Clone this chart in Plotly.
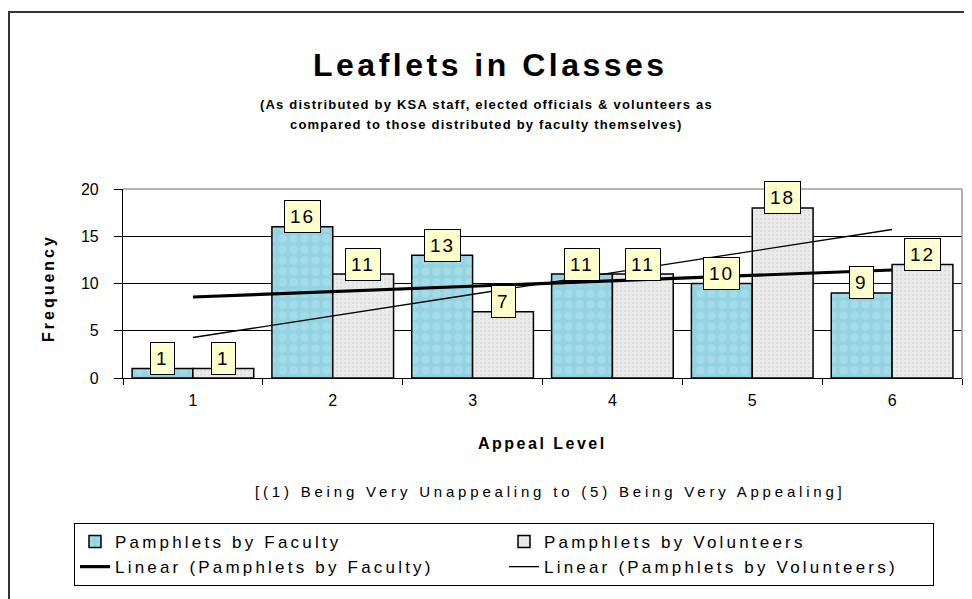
import numpy as np
import plotly.graph_objects as go

# ---------------- data ----------------
categories = ["1", "2", "3", "4", "5", "6"]
faculty = [1, 16, 13, 11, 10, 9]
volunteers = [1, 11, 7, 11, 18, 12]
y_ticks = [0, 5, 10, 15, 20]

series_names = ["Pamphlets by Faculty", "Pamphlets by Volunteers"]
trend_names = ["Linear (Pamphlets by Faculty)", "Linear (Pamphlets by Volunteers)"]

title_text = "Leaflets in Classes"
subtitle_lines = [
    "(As distributed by KSA staff, elected officials & volunteers as",
    "compared to those distributed by faculty themselves)",
]
x_title = "Appeal Level"
x_note = "[(1) Being Very Unappealing to (5) Being Very Appealing]"
y_title = "Frequency"

# ---------------- layout helpers ----------------
W, H = 972, 599
OFF = 8  # page body margin in the browser
ML, MR, MT, MB = 115, 18, 181, 229
PW, PH = W - ML - MR, H - MT - MB
FONT = "Liberation Sans, Arial, sans-serif"
BARGAP = 0.13


def px_x(x):
    return (x - OFF - ML) / PW


def px_y(y):
    return (MT + PH - (y - OFF)) / PH


def spaced(text, sp):
    return '<span style="letter-spacing:%spx">%s</span>' % (sp, text)


idx = np.arange(len(categories))
fit_f = np.polyval(np.polyfit(idx + 1, faculty, 1), idx + 1)
fit_v = np.polyval(np.polyfit(idx + 1, volunteers, 1), idx + 1)

fig = go.Figure()
fig.add_trace(go.Bar(
    x=categories, y=faculty, name=spaced(series_names[0], 3.2),
    marker=dict(color="#9ED8E6", line=dict(color="black", width=1.5),
                pattern=dict(shape=".", fgcolor="#B4E3EE", bgcolor="#93D3E2",
                             size=11, solidity=0.45)),
))
fig.add_trace(go.Bar(
    x=categories, y=volunteers, name=spaced(series_names[1], 3.2),
    marker=dict(color="#E6E6E6", line=dict(color="black", width=1.5),
                pattern=dict(shape=".", fgcolor="#CFCFCF", bgcolor="#EBEBEB",
                             size=4, solidity=0.25)),
))
fig.add_trace(go.Scatter(
    x=categories, y=fit_f, mode="lines", name=spaced(trend_names[0], 3.2),
    line=dict(color="black", width=3.2),
))
fig.add_trace(go.Scatter(
    x=categories, y=fit_v, mode="lines", name=spaced(trend_names[1], 3.2),
    line=dict(color="black", width=1.3),
))

annotations = []
off = (1 - BARGAP) / 4
for i in range(len(categories)):
    for vals, sgn in ((faculty, -1), (volunteers, 1)):
        annotations.append(dict(
            x=i + sgn * off, y=vals[i], xref="x", yref="y",
            text=spaced(str(vals[i]), 2), showarrow=False,
            font=dict(family=FONT, size=19, color="black"),
            bgcolor="#FFFFCC", bordercolor="black", borderwidth=1, borderpad=5,
            yanchor="middle", yshift=10,
        ))

annotations += [
    dict(x=px_x(490), y=px_y(65), xref="paper", yref="paper", showarrow=False,
         text="<b>" + spaced(title_text, 3.5) + "</b>",
         font=dict(family=FONT, size=32, color="black"), yanchor="middle"),
    dict(x=px_x(486), y=px_y(104), xref="paper", yref="paper", showarrow=False,
         text="<b>" + spaced(subtitle_lines[0], 1.2) + "</b>",
         font=dict(family=FONT, size=13, color="black"), yanchor="middle"),
    dict(x=px_x(486), y=px_y(124), xref="paper", yref="paper", showarrow=False,
         text="<b>" + spaced(subtitle_lines[1], 1.2) + "</b>",
         font=dict(family=FONT, size=13, color="black"), yanchor="middle"),
    dict(x=px_x(542), y=px_y(443), xref="paper", yref="paper", showarrow=False,
         text="<b>" + spaced(x_title, 2.5) + "</b>",
         font=dict(family=FONT, size=16, color="black"), yanchor="middle"),
    dict(x=px_x(550), y=px_y(491), xref="paper", yref="paper", showarrow=False,
         text=spaced(x_note, 3.8),
         font=dict(family=FONT, size=15, color="black"), yanchor="middle"),
    dict(x=px_x(48), y=px_y(288), xref="paper", yref="paper", showarrow=False,
         text="<b>" + spaced(y_title, 3) + "</b>", textangle=-90,
         font=dict(family=FONT, size=16, color="black"),
         xanchor="center", yanchor="middle"),
]

shapes = [
    # outer chart frame
    dict(type="rect", xref="paper", yref="paper",
         x0=px_x(9), x1=px_x(1000), y0=px_y(12), y1=px_y(640),
         line=dict(color="#333333", width=2), layer="below"),
    # plot area border (top & right)
    dict(type="line", xref="paper", yref="paper", x0=0, x1=1, y0=1, y1=1,
         line=dict(color="#9A9A9A", width=1.5), layer="above"),
    dict(type="line", xref="paper", yref="paper", x0=1, x1=1, y0=0, y1=1,
         line=dict(color="#9A9A9A", width=1.5), layer="above"),
]

fig.update_layout(
    width=W, height=H,
    margin=dict(l=ML, r=MR, t=MT, b=MB, pad=0),
    paper_bgcolor="white", plot_bgcolor="white",
    barmode="group", bargap=BARGAP, bargroupgap=0,
    font=dict(family=FONT, size=16, color="black"),
    showlegend=True,
    legend=dict(
        orientation="h", x=px_x(74), y=px_y(523), xanchor="left", yanchor="top",
        bordercolor="black", borderwidth=1, bgcolor="white",
        font=dict(family=FONT, size=17, color="black"),
        entrywidth=384, entrywidthmode="pixels", traceorder="normal",
        itemwidth=30, tracegroupgap=0,
    ),
    annotations=annotations,
    shapes=shapes,
)

fig.update_xaxes(
    type="category", range=[-0.5, len(categories) - 0.5],
    showline=True, linecolor="black", linewidth=1.2,
    ticks="outside", tickson="boundaries", ticklen=6, tickcolor="black",
    tickfont=dict(family=FONT, size=16, color="black"),
    ticklabelstandoff=8, showgrid=False, zeroline=False,
)
fig.update_yaxes(
    range=[0, 20], tickvals=y_ticks,
    showline=True, linecolor="black", linewidth=1.2,
    ticks="outside", ticklen=8, tickcolor="black",
    tickfont=dict(family=FONT, size=16, color="black"),
    ticklabelstandoff=12,
    showgrid=True, gridcolor="black", gridwidth=1, zeroline=False,
)

fig.write_html("out.html")
